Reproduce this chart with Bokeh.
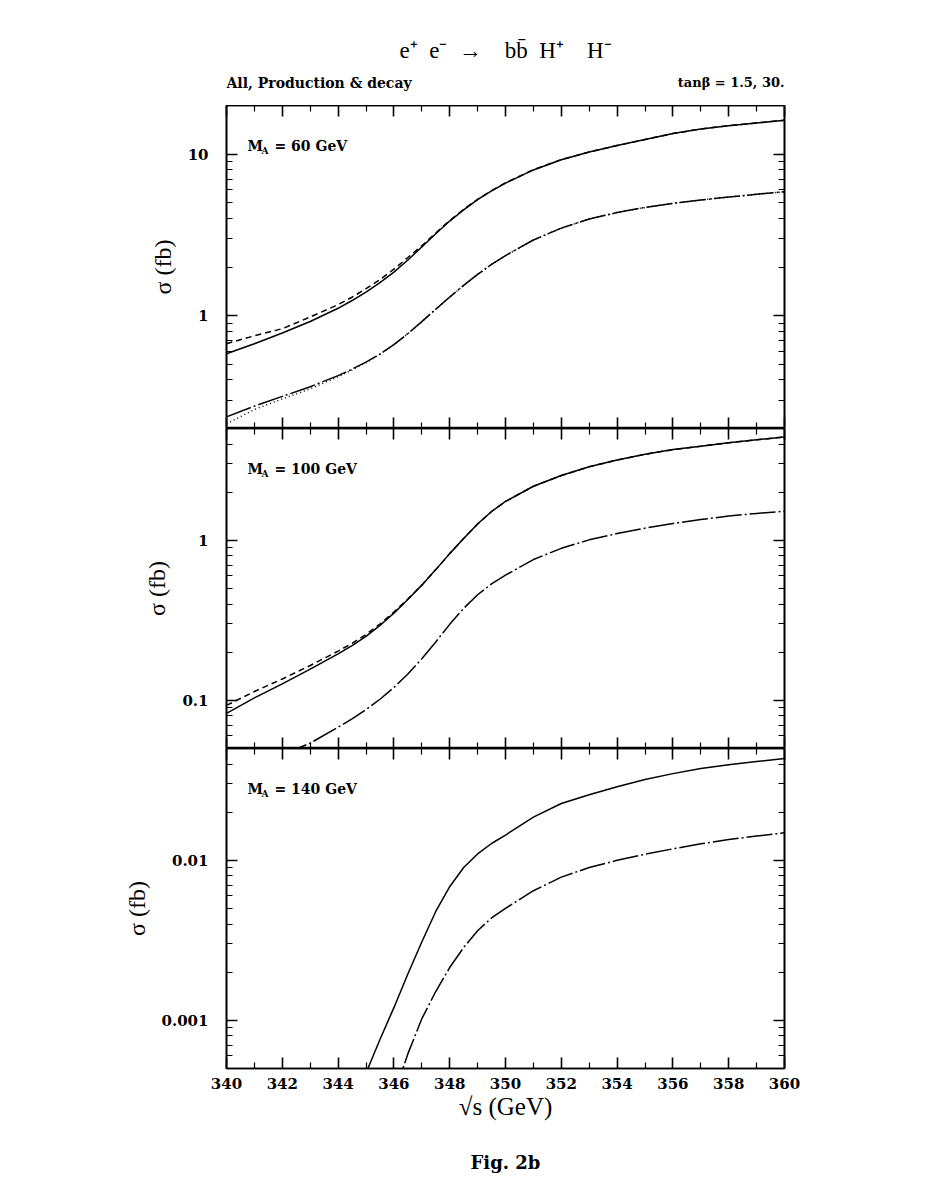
import numpy as np
from bokeh.plotting import figure
from bokeh.models import (FixedTicker, LogAxis, LinearAxis, Label,
                          CustomJSTickFormatter, Range1d)
from bokeh.core.properties import value
from bokeh.layouts import column
from bokeh.embed import file_html
from bokeh.resources import INLINE

# ---------------- data ----------------
x_ticks = [340, 342, 344, 346, 348, 350, 352, 354, 356, 358, 360]
x_minor = [341, 343, 345, 347, 349, 351, 353, 355, 357, 359]

sqrt_s = [340, 341, 342, 343, 344, 344.5, 345, 345.5, 346, 346.5, 347, 347.5, 348, 348.5,
          349, 349.5, 350, 351, 352, 353, 354, 355, 356, 357, 358, 359, 360]

# M_A = 60 GeV
ma60_solid = [0.58, 0.67, 0.78, 0.92, 1.11, 1.24, 1.40, 1.60, 1.86, 2.21, 2.66, 3.21, 3.85, 4.52,
              5.22, 5.92, 6.61, 7.98, 9.23, 10.3, 11.3, 12.3, 13.4, 14.3, 15.0, 15.6, 16.2]
ma60_dashed = [0.67, 0.75, 0.83, 0.98, 1.17, 1.30, 1.47, 1.67, 1.94, 2.29, 2.71, 3.25, 3.88, 4.55,
               5.25, 5.95, 6.64, 8.0, 9.25, 10.3, 11.3, 12.3, 13.4, 14.3, 15.0, 15.6, 16.2]
ma60_dashdot = [0.236, 0.275, 0.316, 0.363, 0.425, 0.466, 0.515, 0.578, 0.661, 0.773, 0.918, 1.096,
                1.303, 1.538, 1.799, 2.075, 2.355, 2.938, 3.483, 3.963, 4.345, 4.677, 4.955, 5.2,
                5.42, 5.64, 5.85]
ma60_dotted = [0.214, 0.262, 0.305, 0.352, 0.418, 0.461, 0.512, 0.576, 0.661, 0.773, 0.918, 1.096,
               1.303, 1.538, 1.799, 2.075, 2.355, 2.938, 3.483, 3.963, 4.345, 4.677, 4.955, 5.2,
               5.42, 5.64, 5.85]

# M_A = 100 GeV
ma100_solid = [0.083, 0.1035, 0.1268, 0.1567, 0.195, 0.2198, 0.2512, 0.2938, 0.3508, 0.4266,
               0.5248, 0.6561, 0.826, 1.028, 1.265, 1.514, 1.75, 2.178, 2.541, 2.884, 3.177,
               3.451, 3.690, 3.868, 4.074, 4.246, 4.426]
ma100_dashed = [0.093, 0.1135, 0.136, 0.165, 0.203, 0.227, 0.258, 0.300, 0.356, 0.430,
                0.5248, 0.6561, 0.826, 1.028, 1.265, 1.514, 1.75, 2.178, 2.541, 2.884, 3.177,
                3.451, 3.690, 3.868, 4.074, 4.246, 4.426]
ma100_dashdot = [None, None, 0.0457, 0.054, 0.0679, 0.0767, 0.0875, 0.1016, 0.1202, 0.1462,
                 0.182, 0.2317, 0.2985, 0.3758, 0.4571, 0.5346, 0.6053, 0.7586, 0.8913, 1.007,
                 1.102, 1.191, 1.274, 1.349, 1.419, 1.472, 1.521]

# M_A = 140 GeV
ma140_solid = [None, None, None, None, None, None, 0.000468, 0.000759, 0.0012, 0.00195, 0.00309,
               0.00479, 0.00684, 0.00902, 0.01096, 0.01274, 0.01439, 0.01862, 0.02265, 0.0257,
               0.02884, 0.03199, 0.03483, 0.0375, 0.03963, 0.0415, 0.04325]
ma140_dashdot = [None, None, None, None, None, None, None, None, 0.000339, 0.000617, 0.001023,
                 0.001514, 0.002138, 0.002851, 0.003631, 0.004365, 0.005012, 0.006457, 0.007852,
                 0.009016, 0.0100, 0.01091, 0.0118, 0.01268, 0.01349, 0.01419, 0.01486]

panel_masses = ["60", "100", "140"]
y_ranges = [(0.2, 20.0), (0.05, 5.0), (0.0005, 0.05)]
y_major = [[1, 10], [0.1, 1], [0.001, 0.01]]
y_minor = [
    [0.2, 0.3, 0.4, 0.5, 0.6, 0.7, 0.8, 0.9, 2, 3, 4, 5, 6, 7, 8, 9, 20],
    [0.05, 0.06, 0.07, 0.08, 0.09, 0.2, 0.3, 0.4, 0.5, 0.6, 0.7, 0.8, 0.9, 2, 3, 4, 5],
    [0.0005, 0.0006, 0.0007, 0.0008, 0.0009, 0.002, 0.003, 0.004, 0.005, 0.006, 0.007,
     0.008, 0.009, 0.02, 0.03, 0.04, 0.05],
]

EN = "\u2002"
title_text = "e⁺" + EN + "e⁻" + EN + "→" + EN + EN + "bb̄" + EN + "H⁺" + EN + EN + "H⁻"
subtitle_left = "All, Production & decay"
subtitle_right = "tanβ = 1.5, 30."
fig_label = "Fig. 2b"

# ---------------- styling helpers ----------------
SERIF = "Liberation Serif"
BOLD = "DejaVu Serif"
FRAME_W = 558
BL, BR = 226, 113


def arr(v):
    return np.array([np.nan if a is None else a for a in v], dtype=float)


fmt = CustomJSTickFormatter(code="return tick.toString();")
blank = CustomJSTickFormatter(code="return '';")


def style_axis(ax, ticker, labels, major=11, minor=6):
    ax.ticker = ticker
    ax.major_tick_in = major
    ax.major_tick_out = 0
    ax.minor_tick_in = minor
    ax.minor_tick_out = 0
    ax.axis_line_color = "black"
    ax.axis_line_width = 1.6
    ax.major_tick_line_color = "black"
    ax.major_tick_line_width = 1.6
    ax.minor_tick_line_color = "black"
    ax.minor_tick_line_width = 1.2
    if labels:
        ax.major_label_text_font = BOLD
        ax.major_label_text_font_style = "bold"
        ax.major_label_text_font_size = "15px"
        ax.major_label_text_color = "black"
    else:
        ax.formatter = blank
        ax.major_label_text_font_size = "1px"
        ax.major_label_standoff = 0


def blank_fig(h):
    f = figure(frame_width=FRAME_W, frame_height=h, x_range=Range1d(340, 360),
               y_range=Range1d(0, h), x_axis_type=None, y_axis_type=None,
               output_backend="svg", toolbar_location=None,
               min_border_left=BL, min_border_right=BR, min_border_top=0, min_border_bottom=0,
               outline_line_color=None, background_fill_color="white",
               border_fill_color="white")
    f.grid.visible = False
    return f


# header with title lines
HEAD_H = 105
header = blank_fig(HEAD_H)
header.text(x=[350], y=[HEAD_H - 50], text=[title_text], text_font=value(SERIF),
            text_font_size="23px", text_align="center", text_baseline="alphabetic",
            text_color="black")
header.text(x=[340], y=[HEAD_H - 82], text=[subtitle_left], text_font=value(BOLD),
            text_font_style="bold", text_font_size="14px", text_align="left",
            text_baseline="alphabetic", text_color="black")
header.text(x=[360], y=[HEAD_H - 82], text=[subtitle_right], text_font=value(BOLD),
            text_font_style="bold", text_font_size="13px", text_align="right",
            text_baseline="alphabetic", text_color="black")

panels = [header]
frame_hs = [323, 320, 320]
dash_dot = "26 3 2 3"
for i in range(3):
    p = figure(frame_width=FRAME_W, frame_height=frame_hs[i],
               x_range=Range1d(340, 360), y_range=Range1d(*y_ranges[i]),
               y_axis_type="log", output_backend="svg", toolbar_location=None,
               min_border_left=BL, min_border_right=BR,
               min_border_top=0, min_border_bottom=0,
               background_fill_color="white", border_fill_color="white")
    p.xgrid.visible = False
    p.ygrid.visible = False
    p.outline_line_color = "black"
    p.outline_line_width = 1.6

    xt = FixedTicker(ticks=x_ticks, minor_ticks=x_minor)
    yt = FixedTicker(ticks=y_major[i], minor_ticks=y_minor[i])

    xb = p.xaxis[0]
    style_axis(xb, xt, labels=(i == 2))
    if i == 2:
        xb.major_label_standoff = 9
        xb.axis_label = "√s (GeV)"
        xb.axis_label_text_font = SERIF
        xb.axis_label_text_font_style = "normal"
        xb.axis_label_text_font_size = "25px"
        xb.axis_label_text_color = "black"
        xb.axis_label_standoff = 1
    yl = p.yaxis[0]
    style_axis(yl, yt, labels=True)
    yl.formatter = fmt
    yl.major_label_standoff = 18
    yl.axis_label = "σ (fb)"
    yl.axis_label_text_font = SERIF
    yl.axis_label_text_font_style = "normal"
    yl.axis_label_text_font_size = "24px"
    yl.axis_label_text_color = "black"
    yl.axis_label_standoff = 9

    xa = LinearAxis()
    style_axis(xa, xt, labels=False)
    p.add_layout(xa, "above")
    yr = LogAxis()
    style_axis(yr, yt, labels=False)
    p.add_layout(yr, "right")

    if i == 0:
        p.line(sqrt_s, arr(ma60_solid), line_color="black", line_width=1.5)
        p.line(sqrt_s, arr(ma60_dashed), line_color="black", line_width=1.5, line_dash="6 4")
        p.line(sqrt_s, arr(ma60_dashdot), line_color="black", line_width=1.5, line_dash=dash_dot)
        p.line(sqrt_s, arr(ma60_dotted), line_color="black", line_width=1.5, line_dash="1 3")
    elif i == 1:
        p.line(sqrt_s, arr(ma100_solid), line_color="black", line_width=1.5)
        p.line(sqrt_s, arr(ma100_dashed), line_color="black", line_width=1.5, line_dash="6 4")
        p.line(sqrt_s, arr(ma100_dashdot), line_color="black", line_width=1.5, line_dash=dash_dot)
    else:
        p.line(sqrt_s, arr(ma140_solid), line_color="black", line_width=1.5)
        p.line(sqrt_s, arr(ma140_dashdot), line_color="black", line_width=1.5, line_dash=dash_dot)

    H = frame_hs[i]
    common = dict(x_units="screen", y_units="screen", text_font=BOLD,
                  text_font_style="bold", text_color="black", text_baseline="alphabetic")
    p.add_layout(Label(x=21, y=H - 40, text="M", text_font_size="14px", **common))
    p.add_layout(Label(x=35, y=H - 45, text="A", text_font_size="9px", **common))
    p.add_layout(Label(x=48, y=H - 40, text="= " + panel_masses[i] + " GeV",
                       text_font_size="14px", **common))
    panels.append(p)

# footer with figure label
FOOT_H = 62
footer = blank_fig(FOOT_H)
footer.text(x=[350], y=[FOOT_H - 40], text=[fig_label], text_font=value(BOLD),
            text_font_style="bold", text_font_size="18px", text_align="center",
            text_baseline="alphabetic", text_color="black")
panels.append(footer)

layout = column(*panels, spacing=0)
open("out.html", "w").write(file_html(layout, INLINE))
